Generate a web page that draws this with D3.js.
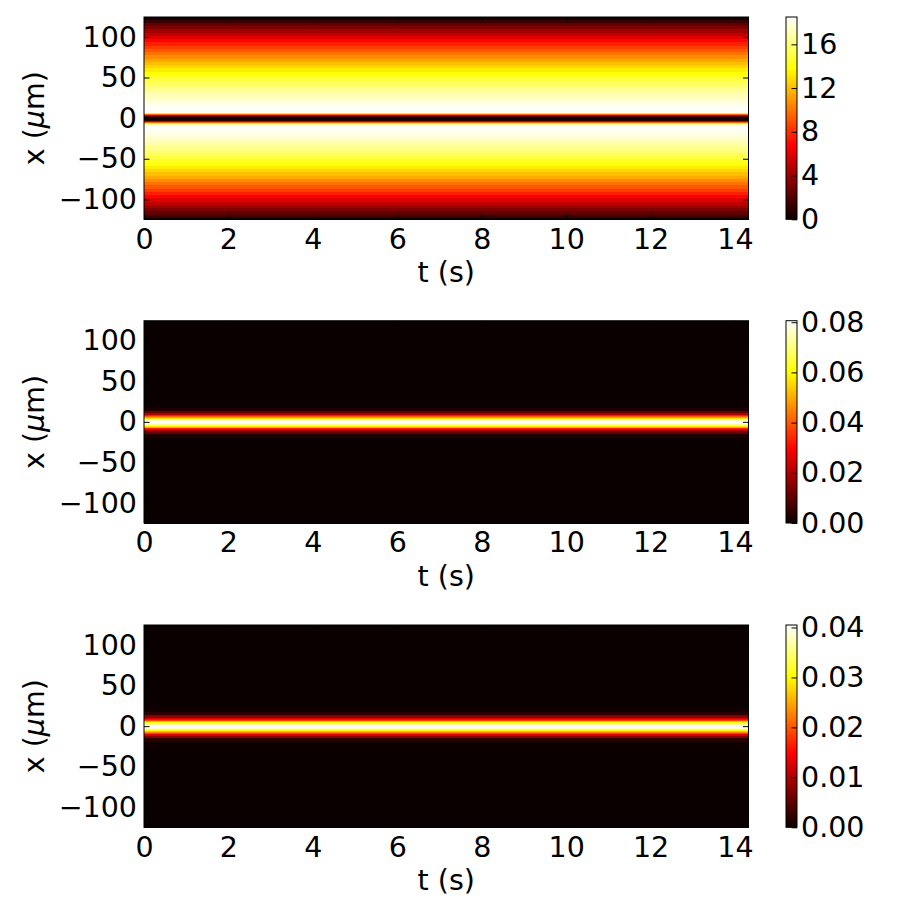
<!DOCTYPE html>
<html>
<head>
<meta charset="utf-8">
<script src="https://cdn.jsdelivr.net/npm/d3@7"></script>
<style>
  body { margin: 0; background: #fff; }
  text { font-family: "DejaVu Sans", sans-serif; fill: #000; }
</style>
</head>
<body>
<svg id="chart" width="917" height="917"></svg>
<script>
// time axis ticks (s) and position ticks (um)
const tTicks = [0, 2, 4, 6, 8, 10, 12, 14];
const xTicks = [-100, -50, 0, 50, 100];

// sample positions along x (um); field is constant along t
const xGrid = [-124, -120, -116, -112, -108, -104, -100, -96, -92, -88, -84, -80, -76, -72, -68, -64, -60, -56, -52, -48, -44, -40, -36, -32, -28, -24, -20, -16, -12,
  -10, -9, -8, -7, -6, -5, -4, -3, -2, -1, 0, 1, 2, 3, 4, 5, 6, 7, 8, 9, 10,
  12, 16, 20, 24, 28, 32, 36, 40, 44, 48, 52, 56, 60, 64, 68, 72, 76, 80, 84, 88, 92, 96, 100, 104, 108, 112, 116, 120, 124];

const fieldTop = [0.2, 1.3, 2.3, 3.2, 4.1, 5.0, 5.9, 6.8, 7.6, 8.4, 9.2, 9.9, 10.7, 11.4, 12.0, 12.7, 13.3, 13.9, 14.4, 15.0, 15.5, 16.0, 16.4, 16.8, 17.2, 17.6, 17.9, 18.2, 18.4,
  18.4, 18.3, 18.0, 16.5, 13.5, 9.5, 5.5, 2.5, 0.9, 0.2, 0, 0.2, 0.9, 2.5, 5.5, 9.5, 13.5, 16.5, 18.0, 18.3, 18.4,
  18.4, 18.2, 17.9, 17.6, 17.2, 16.8, 16.4, 16.0, 15.5, 15.0, 14.4, 13.9, 13.3, 12.7, 12.0, 11.4, 10.7, 9.9, 9.2, 8.4, 7.6, 6.8, 5.9, 5.0, 4.1, 3.2, 2.3, 1.3, 0.2];

const fieldMid = [0, 0, 0, 0, 0, 0, 0, 0, 0, 0, 0, 0, 0, 0, 0, 0, 0, 0, 0, 0, 0, 0, 0, 0, 0, 0, 0.0003, 0.0023, 0.0109,
  0.0201, 0.0262, 0.0331, 0.0408, 0.0489, 0.0570, 0.0646, 0.0711, 0.0762, 0.0795, 0.0806, 0.0795, 0.0762, 0.0711, 0.0646, 0.0570, 0.0489, 0.0408, 0.0331, 0.0262, 0.0201,
  0.0109, 0.0023, 0.0003, 0, 0, 0, 0, 0, 0, 0, 0, 0, 0, 0, 0, 0, 0, 0, 0, 0, 0, 0, 0, 0, 0, 0, 0, 0, 0];

const fieldBot = [0, 0, 0, 0, 0, 0, 0, 0, 0, 0, 0, 0, 0, 0, 0, 0, 0, 0, 0, 0, 0, 0, 0, 0, 0, 0.0001, 0.0004, 0.0019, 0.0074,
  0.0124, 0.0155, 0.0189, 0.0226, 0.0264, 0.0301, 0.0334, 0.0363, 0.0385, 0.0399, 0.0404, 0.0399, 0.0385, 0.0363, 0.0334, 0.0301, 0.0264, 0.0226, 0.0189, 0.0155, 0.0124,
  0.0074, 0.0019, 0.0004, 0.0001, 0, 0, 0, 0, 0, 0, 0, 0, 0, 0, 0, 0, 0, 0, 0, 0, 0, 0, 0, 0, 0, 0, 0, 0, 0];

const cbarTicksTop = [0, 4, 8, 12, 16];
const cbarTicksMid = [0, 0.02, 0.04, 0.06, 0.08];
const cbarTicksBot = [0, 0.01, 0.02, 0.03, 0.04];

const panels = [
  { field: fieldTop, vmax: 18.5, cticks: cbarTicksTop, fmt: d3.format("d"), top: 17 },
  { field: fieldMid, vmax: 0.0806, cticks: cbarTicksMid, fmt: d3.format(".2f"), top: 320.7 },
  { field: fieldBot, vmax: 0.0405, cticks: cbarTicksBot, fmt: d3.format(".2f"), top: 625 }
];

const left = 144, right = 748.5, plotH = 202.3;
const cbLeft = 786, cbW = 11;
const tickLen = 5.5;
const fs = 28.5;

// matplotlib "hot"
const hot = d3.scaleLinear()
  .domain([0, 0.365079, 0.746032, 1])
  .range(["#0b0000", "#ff0000", "#ffff00", "#ffffff"])
  .interpolate(d3.interpolateRgb)
  .clamp(true);

const svg = d3.select("#chart");
svg.append("rect").attr("width", 917).attr("height", 917).attr("fill", "#fff");
const defs = svg.append("defs");

const tScale = d3.scaleLinear().domain([0, 14.32]).range([left, right]);

panels.forEach((p, pi) => {
  const y = d3.scaleLinear().domain([-124.5, 124.5]).range([p.top + plotH, p.top]);
  const g = svg.append("g");

  // cell rows: each sample spans half way to its neighbours
  const rows = xGrid.map((x, i) => {
    const lo = i === 0 ? -124.5 : (xGrid[i - 1] + x) / 2;
    const hi = i === xGrid.length - 1 ? 124.5 : (xGrid[i + 1] + x) / 2;
    return { lo, hi, v: p.field[i] };
  });
  g.selectAll("rect.cell").data(rows).join("rect")
    .attr("class", "cell")
    .attr("x", tScale(0))
    .attr("width", tScale(14.32) - tScale(0))
    .attr("y", d => y(d.hi))
    .attr("height", d => y(d.lo) - y(d.hi) + 0.5)
    .attr("fill", d => hot(d.v / p.vmax))
    .attr("shape-rendering", "crispEdges");

  // axes with inward ticks
  const yAx = g.append("g").attr("transform", `translate(${left},0)`)
    .call(d3.axisLeft(y).tickValues(xTicks).tickSize(-tickLen).tickPadding(7).tickFormat(d3.format("d")));
  const yAxR = g.append("g").attr("transform", `translate(${right},0)`)
    .call(d3.axisRight(y).tickValues(xTicks).tickSize(-tickLen).tickFormat(""));
  const tAx = g.append("g").attr("transform", `translate(0,${p.top + plotH})`)
    .call(d3.axisBottom(tScale).tickValues(tTicks).tickSize(-tickLen).tickPadding(9).tickFormat(d3.format("d")));
  const tAxT = g.append("g").attr("transform", `translate(0,${p.top})`)
    .call(d3.axisTop(tScale).tickValues(tTicks).tickSize(-tickLen).tickFormat(""));
  [yAx, yAxR, tAx, tAxT].forEach(a => {
    a.select(".domain").remove();
    a.selectAll("line").attr("stroke", "#000");
    a.selectAll("text").attr("font-size", fs).attr("font-family", "DejaVu Sans").attr("fill", "#000");
  });

  g.append("rect")
    .attr("x", left).attr("y", p.top)
    .attr("width", right - left).attr("height", plotH)
    .attr("fill", "none").attr("stroke", "#000").attr("stroke-width", 1);

  g.append("text")
    .attr("x", (left + right) / 2).attr("y", p.top + plotH + 63)
    .attr("text-anchor", "middle").attr("font-size", fs)
    .text("t (s)");

  const yl = g.append("text")
    .attr("transform", `translate(44,${y(0)}) rotate(-90)`)
    .attr("text-anchor", "middle").attr("font-size", fs);
  yl.append("tspan").text("x (");
  yl.append("tspan").attr("font-style", "italic").text("\u03bc");
  yl.append("tspan").text("m)");

  // colorbar
  const c = d3.scaleLinear().domain([0, p.vmax]).range([p.top + plotH, p.top]);
  const grad = defs.append("linearGradient").attr("id", "cb" + pi)
    .attr("x1", 0).attr("y1", 1).attr("x2", 0).attr("y2", 0);
  grad.selectAll("stop").data([0, 0.365079, 0.746032, 1]).join("stop")
    .attr("offset", d => d)
    .attr("stop-color", d => hot(d));
  g.append("rect")
    .attr("x", cbLeft).attr("y", p.top).attr("width", cbW).attr("height", plotH)
    .attr("fill", `url(#cb${pi})`).attr("stroke", "#000").attr("stroke-width", 1);
  const cAx = g.append("g").attr("transform", `translate(${cbLeft + cbW},0)`)
    .call(d3.axisRight(c).tickValues(p.cticks).tickSize(-tickLen).tickPadding(4).tickFormat(p.fmt));
  cAx.select(".domain").remove();
  cAx.selectAll("line").attr("stroke", "#000");
  cAx.selectAll("text").attr("font-size", fs).attr("font-family", "DejaVu Sans").attr("fill", "#000");
});
</script>
</body>
</html>
